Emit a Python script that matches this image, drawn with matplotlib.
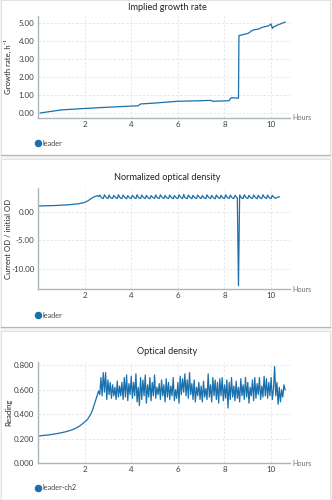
import matplotlib
matplotlib.use("Agg")
import matplotlib.pyplot as plt
import numpy as np
from matplotlib.patches import Rectangle
from matplotlib.lines import Line2D

plt.rcParams['font.family'] = ['Lato', 'DejaVu Sans']

# ---------------------------------------------------------------------------
# data
# ---------------------------------------------------------------------------
SAMPLE_STEP_H = 0.05   # logging interval of the OD readings (hours)

gr_hours = [0.10, 1.00, 2.00, 3.00, 4.30, 4.35, 4.40, 5.00, 6.00, 7.00, 7.40,
            7.50, 8.20, 8.25, 8.30, 8.60, 8.62, 9.00, 9.10, 9.20, 9.50, 9.60,
            9.80, 9.90, 10.00, 10.05, 10.10, 10.30, 10.60]
growth_rate = [0.00, 0.17, 0.25, 0.32, 0.40, 0.45, 0.50, 0.55, 0.65, 0.68, 0.70,
               0.65, 0.68, 0.80, 0.85, 0.82, 4.30, 4.42, 4.50, 4.60, 4.68, 4.75,
               4.82, 4.85, 4.95, 4.70, 4.78, 4.90, 5.05]

norm_od = [
    1.00, 1.00, 1.01, 1.01, 1.02, 1.02, 1.03, 1.03, 1.04, 1.04,
    1.05, 1.05, 1.06, 1.06, 1.07, 1.08, 1.09, 1.10, 1.11, 1.12,
    1.13, 1.14, 1.15, 1.16, 1.17, 1.18, 1.20, 1.22, 1.24, 1.26,
    1.28, 1.30, 1.32, 1.34, 1.37, 1.40, 1.43, 1.47, 1.51, 1.56,
    1.62, 1.70, 1.80, 1.92, 2.05, 2.20, 2.35, 2.48, 2.58, 2.66,
    2.72, 2.80, 2.62, 2.90,
    # t = 2.70 onwards: dilution sawtooth
    2.55, 2.35, 2.30, 2.95, 2.60, 2.40, 2.30, 2.90, 2.55, 2.35,
    2.30, 2.85, 2.60, 2.40, 2.30, 2.95, 2.55, 2.35, 2.30, 2.90,
    2.60, 2.40, 2.25, 2.80, 2.55, 2.35, 2.30, 2.85, 2.60, 2.40,
    2.30, 2.95, 2.55, 2.35, 2.30, 2.90, 2.60, 2.40, 2.30, 2.85,
    2.55, 2.35, 2.25, 2.80, 2.60, 2.40, 2.30, 2.90, 2.55, 2.35,
    2.30, 2.95, 2.60, 2.40, 2.30, 2.85, 2.55, 2.35, 2.30, 2.90,
    2.60, 2.40, 2.25, 2.80, 2.55, 2.35, 2.30, 2.95, 2.60, 2.40,
    2.30, 3.00, 2.50, 2.35, 2.30, 2.90, 2.60, 2.45, 2.25, 2.85,
    2.55, 2.35, 2.30, 2.90, 2.60, 2.40, 2.30, 2.80, 2.55, 2.35,
    2.30, 2.95, 2.60, 2.40, 2.30, 2.85, 2.55, 2.35, 2.25, 2.90,
    2.60, 2.40, 2.30, 2.85, 2.55, 2.35, 2.30, 2.95, 2.60, 2.40,
    2.30, 2.90, 2.55, 2.35, 2.30, 2.85, 2.60, 2.40, -12.90, 2.90,
    2.55, 2.35, 2.30, 2.95, 2.60, 2.40, 2.30, 2.85, 2.55, 2.35,
    2.30, 2.90, 2.60, 2.40, 2.25, 2.85, 2.55, 2.35, 2.30, 2.95,
    2.60, 2.40, 2.30, 2.90, 2.55, 2.35, 2.30, 2.85, 2.60, 2.40,
    2.35, 2.50, 2.55, 2.60,
]

od_reading = [
    0.220, 0.222, 0.223, 0.224, 0.225, 0.226, 0.227, 0.228, 0.229, 0.230,
    0.231, 0.233, 0.234, 0.236, 0.237, 0.239, 0.240, 0.242, 0.244, 0.246,
    0.248, 0.250, 0.252, 0.254, 0.257, 0.259, 0.262, 0.265, 0.268, 0.271,
    0.275, 0.279, 0.283, 0.288, 0.293, 0.298, 0.305, 0.312, 0.320, 0.328,
    0.336, 0.345, 0.352, 0.365, 0.380, 0.395, 0.415, 0.440, 0.470, 0.500,
    0.530, 0.560, 0.590, 0.560,
    # t = 2.70 onwards
    0.70, 0.55, 0.74, 0.58, 0.74, 0.52, 0.68, 0.56, 0.66, 0.53,
    0.64, 0.55, 0.62, 0.52, 0.67, 0.54, 0.63, 0.55, 0.66, 0.52,
    0.70, 0.54, 0.72, 0.51, 0.65, 0.56, 0.71, 0.53, 0.66, 0.55,
    0.73, 0.50, 0.62, 0.47, 0.70, 0.52, 0.68, 0.55, 0.72, 0.49,
    0.64, 0.54, 0.70, 0.51, 0.66, 0.55, 0.72, 0.53, 0.62, 0.56,
    0.65, 0.52, 0.68, 0.55, 0.64, 0.50, 0.69, 0.54, 0.66, 0.52,
    0.63, 0.55, 0.70, 0.51, 0.60, 0.53, 0.66, 0.49, 0.71, 0.56,
    0.69, 0.58, 0.73, 0.55, 0.68, 0.53, 0.74, 0.56, 0.65, 0.52,
    0.68, 0.50, 0.62, 0.55, 0.66, 0.52, 0.63, 0.50, 0.67, 0.54,
    0.61, 0.52, 0.73, 0.54, 0.64, 0.50, 0.70, 0.55, 0.68, 0.52,
    0.66, 0.49, 0.69, 0.55, 0.70, 0.51, 0.64, 0.53, 0.68, 0.45,
    0.66, 0.52, 0.70, 0.54, 0.63, 0.51, 0.67, 0.53, 0.62, 0.50,
    0.69, 0.55, 0.64, 0.52, 0.70, 0.54, 0.66, 0.49, 0.62, 0.55,
    0.68, 0.51, 0.70, 0.53, 0.65, 0.56, 0.70, 0.52, 0.63, 0.54,
    0.71, 0.55, 0.69, 0.53, 0.66, 0.55, 0.70, 0.52, 0.60, 0.79,
    0.55, 0.66, 0.48, 0.62, 0.50, 0.60, 0.54, 0.64, 0.60,
]

norm_hours = SAMPLE_STEP_H * np.arange(len(norm_od))
od_hours = SAMPLE_STEP_H * np.arange(len(od_reading))

x_ticks = [2, 4, 6, 8, 10]

# ---------------------------------------------------------------------------
# layout helpers (pixel units, origin top-left, 332x500 canvas)
# ---------------------------------------------------------------------------
W, H = 332, 500
LINE_COLOR = '#1a70ad'
SPINE_COLOR = '#a9b6bd'
GRID_COLOR = '#e4e4e4'
TEXT_COLOR = '#404040'

fig = plt.figure(figsize=(W / 100, H / 100), dpi=100)
fig.patch.set_facecolor('#f3f3f3')


def card(top, bottom):
    fig.add_artist(Rectangle((1 / W, 1 - bottom / H), 329 / W, (bottom - top) / H,
                             transform=fig.transFigure, facecolor='white',
                             edgecolor='#dedede', linewidth=0.6, zorder=0))
    fig.add_artist(Line2D([1 / W, 330 / W], [1 - bottom / H] * 2,
                          transform=fig.transFigure, color='#b5b5b5', linewidth=0.9))


def panel(top, bottom, title, ylabel, title_y, legend_y, legend_text):
    left, right = 38, 290
    ax = fig.add_axes([left / W, 1 - bottom / H, (right - left) / W, (bottom - top) / H])
    ax.set_facecolor('none')
    for side in ['top', 'right']:
        ax.spines[side].set_visible(False)
    for side in ['left', 'bottom']:
        ax.spines[side].set_color(SPINE_COLOR)
        ax.spines[side].set_linewidth(1.0)
    ax.tick_params(length=0, labelsize=5.8, colors=TEXT_COLOR, pad=2.5)
    ax.grid(True, color=GRID_COLOR, linestyle=(0, (3, 2)), linewidth=0.6)
    ax.set_axisbelow(True)
    ax.set_xticks(x_ticks)
    ax.set_xlim(0, 10.81)
    ax.set_ylabel(ylabel, fontsize=5.6, color='#222222')
    ax.yaxis.set_label_coords((12 - left) / (right - left), 0.5)
    fig.text(0.5 * (left + right) / W + 0.01, 1 - title_y / H, title, ha='center',
             va='center', fontsize=6.6, color='#222222')
    ax.text(1.01, 0, 'Hours', transform=ax.transAxes, ha='left', va='center',
            fontsize=5.2, color='#707070')
    fig.add_artist(Line2D([38 / W], [1 - legend_y / H], marker='o', markersize=4.4,
                          color=LINE_COLOR, transform=fig.transFigure, linestyle='none'))
    fig.text(42.5 / W, 1 - legend_y / H, legend_text, ha='left', va='center',
             fontsize=5.2, color='#444444')
    return ax


card(0, 155)
card(159, 327)
card(331, 500)

# Panel 1 - implied growth rate
ax1 = panel(16, 118, 'Implied growth rate', 'Growth rate, h⁻¹', 8, 143, 'leader')
ax1.plot(gr_hours, growth_rate, color=LINE_COLOR, linewidth=0.9)
ax1.set_ylim(-0.28, 5.39)
ax1.set_yticks([0, 1, 2, 3, 4, 5])
ax1.yaxis.set_major_formatter(matplotlib.ticker.FormatStrFormatter('%.2f'))

# Panel 2 - normalized optical density
ax2 = panel(188, 289, 'Normalized optical density', 'Current OD / initial OD', 178, 315, 'leader')
ax2.plot(norm_hours, norm_od, color=LINE_COLOR, linewidth=0.9)
ax2.set_ylim(-13.47, 4.13)
ax2.set_yticks([-10, -5, 0])
ax2.yaxis.set_major_formatter(matplotlib.ticker.FormatStrFormatter('%.2f'))

# Panel 3 - optical density
ax3 = panel(362, 463, 'Optical density', 'Reading', 351, 488, 'leader-ch2')
ax3.plot(od_hours, od_reading, color=LINE_COLOR, linewidth=0.9)
ax3.set_ylim(0, 0.827)
ax3.set_yticks([0, 0.2, 0.4, 0.6, 0.8])
ax3.yaxis.set_major_formatter(matplotlib.ticker.FormatStrFormatter('%.3f'))

fig.savefig('out.png', dpi=100, facecolor=fig.get_facecolor())
